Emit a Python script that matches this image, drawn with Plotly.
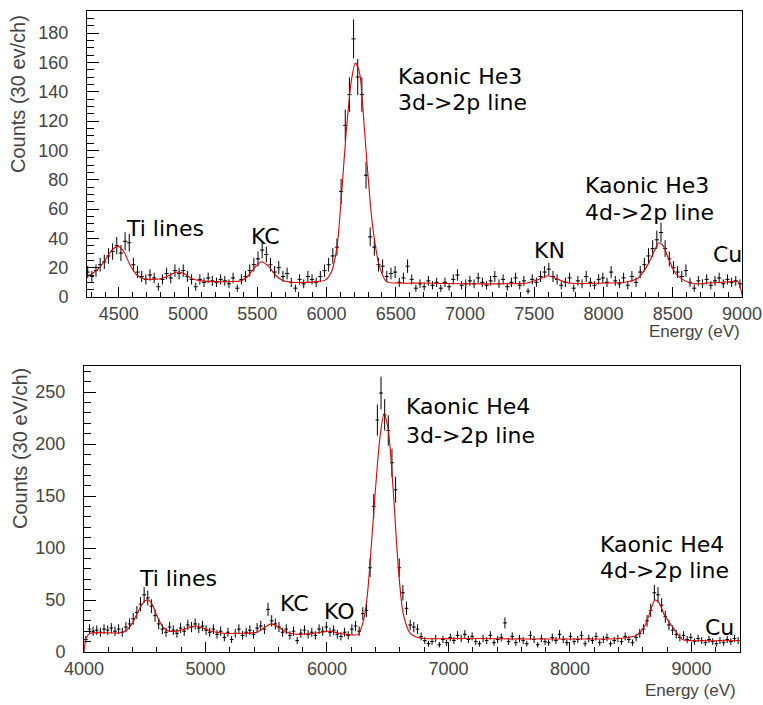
import numpy as np
import plotly.graph_objects as go

W, H = 763, 705

# ---------------- DATA ----------------
BIN_WIDTH = 30  # eV per channel

# Top panel: Kaonic He3 spectrum (bin centres start at 4275 eV)
he3_first_bin = 4275
he3_counts = [
    17, 14, 18, 22, 24, 28, 31, 35, 30, 38,
    37, 22, 17, 14, 12, 15, 13, 7, 12, 16,
    13, 18, 16, 18, 14, 12, 7, 12, 10, 13,
    11, 10, 12, 11, 9, 13, 6, 12, 14, 18,
    22, 26, 32, 29, 22, 17, 20, 14, 16, 10,
    6, 12, 9, 14, 12, 10, 14, 18, 22, 28,
    34, 72, 117, 138, 176, 150, 138, 83, 41, 34,
    22, 21, 14, 16, 17, 10, 13, 21, 12, 6,
    9, 7, 11, 8, 10, 6, 10, 7, 12, 15,
    8, 9, 11, 9, 13, 10, 8, 11, 14, 9,
    12, 7, 10, 13, 8, 11, 4, 12, 10, 14,
    17, 19, 14, 12, 8, 10, 13, 6, 11, 9,
    14, 10, 8, 12, 13, 10, 17, 11, 9, 13,
    8, 14, 10, 17, 22, 28, 33, 39, 44, 33,
    26, 20, 17, 14, 18, 10, 6, 11, 9, 12,
    8, 11, 13, 9, 12, 10, 11, 9,
]
he3_fit_energy = [4270, 4300, 4350, 4400, 4450, 4495, 4535, 4580, 4630, 4680,
                  4750, 4800, 4850, 4900, 4940, 4980, 5030, 5100, 5200, 5300,
                  5380, 5430, 5480, 5530, 5580, 5630, 5680, 5750, 5850, 5930,
                  5990, 6035, 6075, 6105, 6145, 6180, 6208, 6238, 6258, 6293,
                  6333, 6383, 6433, 6520, 6700, 7000, 7300, 7450, 7530, 7600,
                  7670, 7750, 8000, 8150, 8250, 8320, 8370, 8400, 8430, 8470,
                  8520, 8580, 8650, 8750, 8850, 8920, 8970, 8990, 9000]
he3_fit_counts = [14, 15.5, 19, 25, 32, 34.5, 31, 22, 15, 12.5,
                  12, 12.5, 14, 16.5, 17, 15.5, 12.5, 11, 10.5, 10.5,
                  11, 14, 20, 24, 21, 15, 11.5, 10, 10, 10.5,
                  11.5, 17, 34, 66, 116, 148, 159.5, 153, 134, 90,
                  48, 20.5, 10.5, 9.5, 9.5, 9, 9, 9.5, 12, 14.5,
                  12, 9.5, 9.5, 10, 13, 22, 32, 37, 35, 26,
                  16, 11.5, 9, 9.5, 10, 10.5, 10.5, 6, 1]

# Bottom panel: Kaonic He4 spectrum (bin centres start at 4015 eV)
he4_first_bin = 4015
he4_counts = [
    12, 22, 20, 21, 19, 22, 21, 23, 20, 22,
    19, 24, 27, 32, 38, 46, 55, 52, 44, 35,
    27, 22, 19, 24, 21, 18, 23, 20, 26, 24,
    27, 23, 25, 21, 19, 22, 17, 20, 14, 19,
    12, 18, 22, 16, 19, 21, 17, 23, 25, 22,
    41, 30, 27, 24, 19, 22, 16, 20, 11, 18,
    21, 17, 19, 16, 22, 20, 24, 19, 21, 17,
    15, 19, 16, 22, 25, 20, 37, 40, 81, 140,
    223, 249, 228, 213, 182, 156, 81, 57, 42, 26,
    24, 22, 15, 11, 8, 10, 13, 7, 12, 9,
    14, 11, 16, 13, 17, 12, 15, 10, 8, 13,
    11, 16, 9, 12, 14, 28, 10, 15, 9, 13,
    11, 8, 16, 12, 7, 13, 10, 9, 14, 11,
    17, 12, 9, 15, 10, 12, 16, 8, 13, 11,
    15, 9, 12, 14, 8, 11, 13, 10, 15, 12,
    9, 14, 18, 22, 30, 40, 57, 55, 45, 34,
    26, 21, 17, 14, 16, 12, 14, 10, 13, 11,
    9, 12, 10, 8, 11, 9, 12, 10, 13, 11,
]
he4_fit_energy = [4000, 4020, 4050, 4300, 4350, 4400, 4450, 4500, 4530, 4560,
                  4600, 4650, 4700, 4800, 4870, 4920, 4980, 5050, 5150, 5300,
                  5420, 5480, 5540, 5600, 5670, 5750, 5850, 5950, 6020, 6100,
                  6200, 6257, 6300, 6330, 6356, 6397, 6438, 6470, 6504, 6545,
                  6587, 6628, 6685, 6750, 6800, 7200, 7600, 8000, 8400, 8550,
                  8620, 8670, 8700, 8730, 8780, 8852, 8926, 9000, 9400]
he4_fit_counts = [0, 14, 18, 18.5, 21, 28, 40, 49, 50, 46,
                  35, 24, 20, 21, 24, 25, 23, 20, 18, 18,
                  19, 23, 27, 24, 19, 17, 17.5, 19, 20, 18,
                  16.5, 17, 30, 52, 88, 153, 208, 229, 214, 156,
                  82, 37, 18, 14, 13, 13, 12.5, 12.5, 13, 16,
                  26, 42, 50, 48, 35, 23, 12, 11, 11]

top_xticks = [4500, 5000, 5500, 6000, 6500, 7000, 7500, 8000, 8500, 9000]
top_yticks = [0, 20, 40, 60, 80, 100, 120, 140, 160, 180]
bot_xticks = [4000, 5000, 6000, 7000, 8000, 9000]
bot_yticks = [0, 50, 100, 150, 200, 250]

# ---------------- FIGURE ----------------
def px(x, y):
    return x / W, 1 - y / H

fig = go.Figure()

def add_spectrum(first_bin, counts, fit_e, fit_v, xa, ya):
    counts = np.array(counts, dtype=float)
    energy = first_bin + BIN_WIDTH * np.arange(len(counts))
    fig.add_trace(go.Scatter(
        x=energy, y=counts, mode='markers', xaxis=xa, yaxis=ya,
        marker=dict(size=1, color='black'),
        error_x=dict(type='constant', value=BIN_WIDTH / 2, width=0, thickness=1, color='black'),
        error_y=dict(type='data', array=np.sqrt(counts), width=0, thickness=1, color='black'),
        showlegend=False, hoverinfo='skip'))
    fig.add_trace(go.Scatter(
        x=fit_e, y=fit_v, mode='lines', xaxis=xa, yaxis=ya,
        line=dict(color='#e00000', width=1.1, shape='spline', smoothing=0.8),
        showlegend=False, hoverinfo='skip'))

add_spectrum(he3_first_bin, he3_counts, he3_fit_energy, he3_fit_counts, 'x', 'y')
add_spectrum(he4_first_bin, he4_counts, he4_fit_energy, he4_fit_counts, 'x2', 'y2')

tickfont = dict(family='Liberation Sans', size=18, color='#444')
common = dict(showline=True, linecolor='black', linewidth=1, mirror=True,
              ticks='inside', tickcolor='black', showgrid=False, zeroline=False,
              tickfont=tickfont, automargin=False)

fig.update_layout(
    width=W, height=H, margin=dict(l=0, r=0, t=0, b=0),
    paper_bgcolor='white', plot_bgcolor='white',
    xaxis=dict(**common, domain=[87 / W, 742 / W], anchor='y', range=[4270, 9000],
               tickvals=top_xticks, ticklen=10,
               minor=dict(ticks='inside', dtick=100, tick0=4500, ticklen=5, tickcolor='black', showgrid=False)),
    yaxis=dict(**common, domain=[1 - 297 / H, 1 - 11 / H], anchor='x', range=[0, 195],
               tickvals=top_yticks, ticklen=12, ticklabelstandoff=14,
               minor=dict(ticks='inside', dtick=5, ticklen=7, tickcolor='black', showgrid=False)),
    xaxis2=dict(**common, domain=[84 / W, 740 / W], anchor='y2', range=[4000, 9400],
                tickvals=bot_xticks, ticklen=10,
                minor=dict(ticks='inside', dtick=200, tick0=4000, ticklen=5, tickcolor='black', showgrid=False)),
    yaxis2=dict(**common, domain=[1 - 652 / H, 1 - 366 / H], anchor='x2', range=[0, 275],
                tickvals=bot_yticks, ticklen=12, ticklabelstandoff=14,
                minor=dict(ticks='inside', dtick=10, ticklen=7, tickcolor='black', showgrid=False)),
)

ann = []
def label(text, x, y, size=22, anchor='left', family='DejaVu Sans', color='black', angle=0):
    ax, ay = px(x, y)
    ann.append(dict(text=text, x=ax, y=ay, xref='paper', yref='paper', showarrow=False,
                    xanchor=anchor, yanchor='middle', textangle=angle,
                    font=dict(family=family, size=size, color=color)))

# top panel labels
label('Kaonic He3', 396, 76)
label('3d-&gt;2p line', 396, 103)
label('Kaonic He3', 583, 186)
label('4d-&gt;2p line', 583, 212)
label('Ti lines', 124, 228)
label('KC', 249, 236)
label('KN', 532, 250)
label('Cu', 711, 254)
# bottom panel labels
label('Kaonic He4', 404, 407)
label('3d-&gt;2p line', 404, 435)
label('Kaonic He4', 598, 544)
label('4d-&gt;2p line', 598, 570)
label('Ti lines', 137, 578)
label('KC', 278, 603)
label('KO', 322, 611)
label('Cu', 703, 627)
# axis titles
label('Counts (30 ev/ch)', 18, 94, size=20, anchor='center', family='Liberation Sans', color='#444', angle=-90)
label('Counts (30 eV/ch)', 20, 449, size=20, anchor='center', family='Liberation Sans', color='#444', angle=-90)
label('Energy (eV)', 742, 331, size=17, anchor='right', family='Liberation Sans', color='#444')
label('Energy (eV)', 738, 690, size=17, anchor='right', family='Liberation Sans', color='#444')

fig.update_layout(annotations=ann)
fig.write_html('out.html')
